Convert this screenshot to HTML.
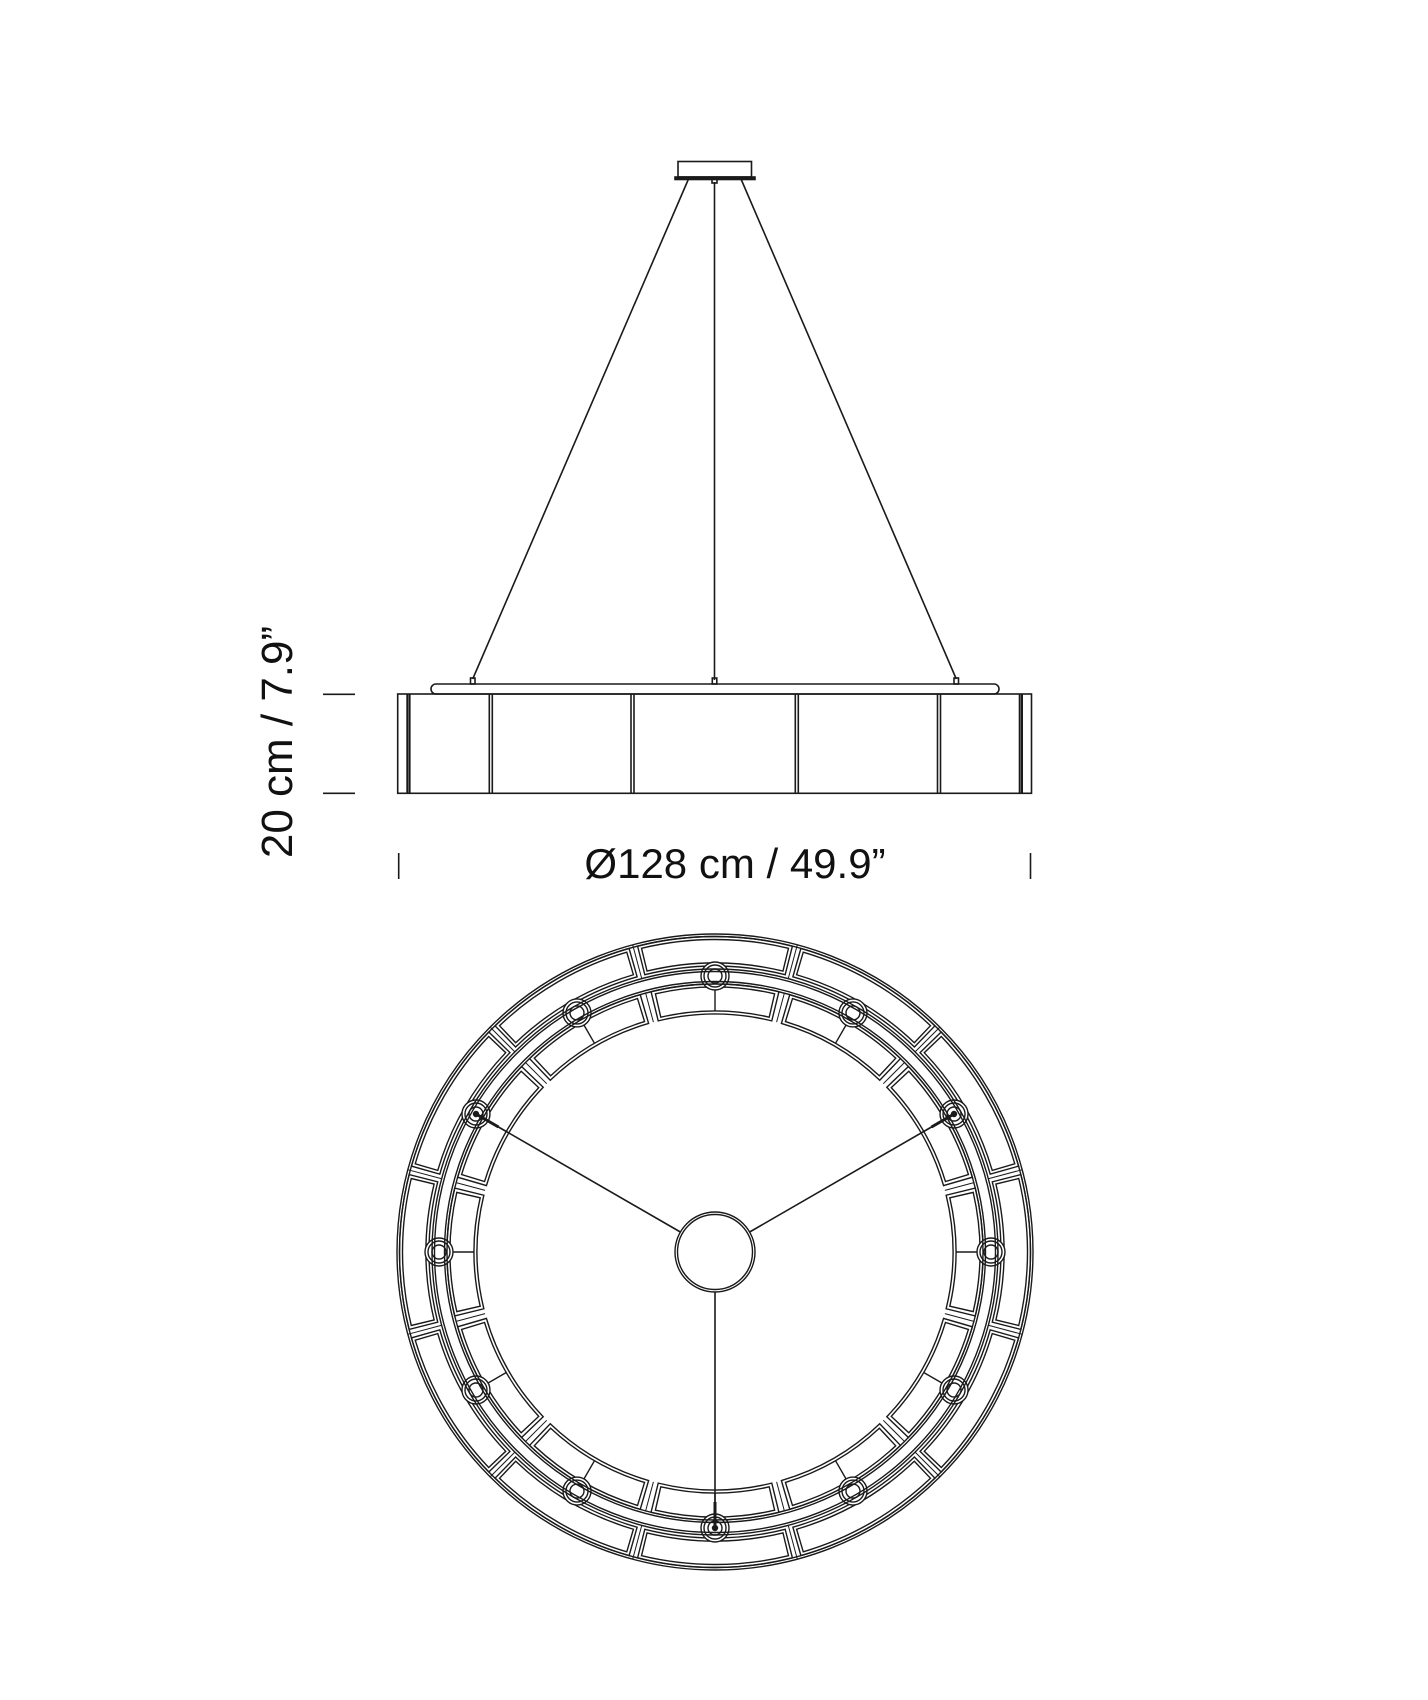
<!DOCTYPE html>
<html><head><meta charset="utf-8"><style>
html,body{margin:0;padding:0;background:#fff;}
svg{display:block;}
text{font-family:"Liberation Sans",sans-serif;fill:#111;}
</style></head><body>
<svg id="s" width="1428" height="1700" viewBox="0 0 1428 1700" xmlns="http://www.w3.org/2000/svg">
<g fill="none" stroke="#1a1a1a" stroke-width="1.6">
<rect x="678" y="161.5" width="73.5" height="15.5"/>
<rect x="675" y="177" width="80" height="2.5" fill="#1a1a1a"/>
<rect x="712" y="179" width="5" height="4"/>
<line x1="688.5" y1="179" x2="472.7" y2="679"/>
<line x1="714.5" y1="182" x2="714.5" y2="680"/>
<line x1="741" y1="179" x2="956.3" y2="679"/>
<rect x="470.5" y="678" width="4.5" height="6"/>
<rect x="712.3" y="678" width="4.5" height="6"/>
<rect x="954" y="678" width="4.5" height="6"/>
<rect x="431" y="684" width="568" height="10" rx="5"/>
<rect x="397.7" y="694" width="633.8" height="99.3"/>
<line x1="407.5" y1="694" x2="407.5" y2="793" stroke-width="2.4"/>
<line x1="409.8" y1="694" x2="409.8" y2="793"/>
<line x1="489.3" y1="694" x2="489.3" y2="793"/>
<line x1="492.3" y1="694" x2="492.3" y2="793"/>
<line x1="631" y1="694" x2="631" y2="793"/>
<line x1="634" y1="694" x2="634" y2="793"/>
<line x1="795.3" y1="694" x2="795.3" y2="793"/>
<line x1="798.3" y1="694" x2="798.3" y2="793"/>
<line x1="937.5" y1="694" x2="937.5" y2="793"/>
<line x1="940.5" y1="694" x2="940.5" y2="793"/>
<line x1="1019.5" y1="694" x2="1019.5" y2="793"/>
<line x1="1021.8" y1="694" x2="1021.8" y2="793" stroke-width="2.4"/>
<line x1="323" y1="694.3" x2="355" y2="694.3"/>
<line x1="323" y1="793.3" x2="355" y2="793.3"/>
<line x1="398.7" y1="853" x2="398.7" y2="879"/>
<line x1="1030.5" y1="853" x2="1030.5" y2="879"/>
</g>
<text x="292" y="742" font-size="44" text-anchor="middle" transform="rotate(-90 292 742)">20 cm / 7.9”</text>
<text x="735" y="878" font-size="42" text-anchor="middle">Ø128 cm / 49.9”</text>
<g id="plan" fill="none" stroke="#1a1a1a" stroke-width="1.4"></g>
</svg>
<script>
(function(){
var g=document.getElementById('plan');var NS='http://www.w3.org/2000/svg';
var cx=715,cy=1252;
function el(t,a){var e=document.createElementNS(NS,t);for(var k in a)e.setAttribute(k,a[k]);g.appendChild(e);return e;}
function pt(r,a){var d=a*Math.PI/180;return [cx+r*Math.cos(d),cy-r*Math.sin(d)];}
function sector(r1,r2,a1,a2){var p1=pt(r2,a1),p2=pt(r2,a2),p3=pt(r1,a2),p4=pt(r1,a1);
return 'M'+p1+' A'+r2+' '+r2+' 0 0 0 '+p2+' L'+p3+' A'+r1+' '+r1+' 0 0 1 '+p4+' Z';}
el('circle',{cx:cx,cy:cy,r:318});
el('circle',{cx:cx,cy:cy,r:315.5});
for(var i=0;i<12;i++){
 var c=90+i*30;
 el('path',{d:sector(286,315.5,c-14.2,c+14.2)});
 el('path',{d:sector(289,312.5,c-13.6,c+13.6)});
 el('path',{d:sector(238,268,c-13.8,c+13.8)});
 el('path',{d:sector(241,265,c-13.0,c+13.0)});
 var b=c+15;
 var q1=pt(283,b),q2=pt(318,b);
 el('line',{x1:q1[0],y1:q1[1],x2:q2[0],y2:q2[1],'stroke-width':1});
 var q3=pt(238,b),q4=pt(268,b);
 el('line',{x1:q3[0],y1:q3[1],x2:q4[0],y2:q4[1],'stroke-width':1});
 var L=pt(276,c);
 el('circle',{cx:L[0],cy:L[1],r:14,fill:'#fff'});
 el('circle',{cx:L[0],cy:L[1],r:11});
 el('circle',{cx:L[0],cy:L[1],r:7});
 var s1=pt(241,c),s2=pt(262,c);
 el('line',{x1:s1[0],y1:s1[1],x2:s2[0],y2:s2[1]});
}
// ring band over lamps
el('circle',{cx:cx,cy:cy,r:283});
el('circle',{cx:cx,cy:cy,r:280.5});
el('circle',{cx:cx,cy:cy,r:270.5});
el('circle',{cx:cx,cy:cy,r:268});
el('circle',{cx:cx,cy:cy,r:40});
el('circle',{cx:cx,cy:cy,r:37.5});
[150,30,270].forEach(function(a){var p=pt(40,a),q=pt(276,a);
 el('line',{x1:p[0],y1:p[1],x2:q[0],y2:q[1],'stroke-width':1.6});
 var r1=pt(250,a);el('line',{x1:r1[0],y1:r1[1],x2:q[0],y2:q[1],'stroke-width':3});
 el('circle',{cx:q[0],cy:q[1],r:2.5,fill:'#1a1a1a'});
});
})();
</script>
</body></html>
